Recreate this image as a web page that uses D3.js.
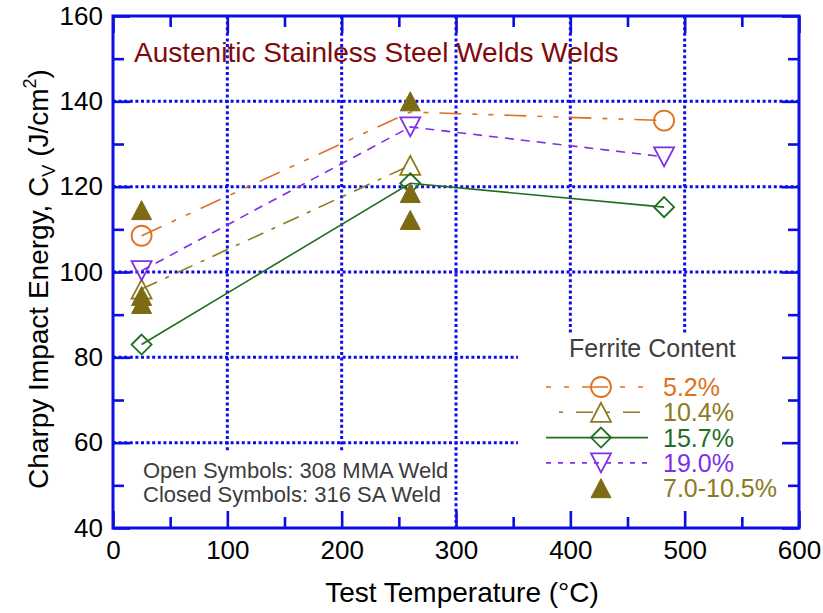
<!DOCTYPE html>
<html>
<head>
<meta charset="utf-8">
<script src="https://cdn.jsdelivr.net/npm/d3@7"></script>
<style>
  body { margin: 0; background: #fff; }
  svg { display: block; }
  text { font-family: "Liberation Sans", Arial, Helvetica, sans-serif; }
</style>
</head>
<body>
<svg id="chart" width="823" height="613"></svg>
<script>
// Charpy impact energy (J/cm^2) versus test temperature (°C)
const temps = [25, 260, 482];
const ferrite52 = [108.5, 137.5, 135.5];
const ferrite52MarkerTemps = [25, 482];   // the 260 °C point is hidden under a closed symbol
const ferrite104 = [96, 125];
const ferrite157 = [83, 120.8, 115.2];
const ferrite190 = [100.3, 134, 127];
const closedTemps = [25, 25, 25, 260, 260, 260];
const closedValues = [114.5, 94.4, 92.5, 140, 118.5, 112.2];
const seriesLabels = ["5.2%", "10.4%", "15.7%", "19.0%", "7.0-10.5%"];
const xTicks = [0, 100, 200, 300, 400, 500, 600];
const xMinor = [50, 150, 250, 350, 450, 550];
const yTicks = [40, 60, 80, 100, 120, 140, 160];
const yMinor = [50, 70, 90, 110, 130, 150];
const xGrid = [100, 200, 300, 400, 500];
const yGrid = [60, 80, 100, 120, 140];

const svg = d3.select("#chart");
const x = d3.scaleLinear().domain([0, 600]).range([113, 799]);
const y = d3.scaleLinear().domain([40, 160]).range([528, 16]);
const blue = "#0d0de6";

// marker shapes (centred on the data point)
const shapes = {
  circle: "M10,0A10,10 0 1,1 -10,0A10,10 0 1,1 10,0Z",
  up: "M0,-9.5L10,9.5L-10,9.5Z",
  down: "M-10,-9.5L10,-9.5L0,9.5Z",
  diamond: "M0,-10L10,0L0,10L-10,0Z"
};

const series = [
  { label: seriesLabels[0], xs: temps, ys: ferrite52, marks: ferrite52MarkerTemps,
    color: "#e07020", dash: "22,11,5,11,5,11", legendDash: "26,12,5,13,5,13", legendOffset: 38, shape: "circle" },
  { label: seriesLabels[1], xs: temps.slice(0, ferrite104.length), ys: ferrite104, marks: null,
    color: "#8c7a1e", dash: "17,9,4,9", legendDash: "17,13,4,13", legendOffset: 17, shape: "up" },
  { label: seriesLabels[2], xs: temps, ys: ferrite157, marks: null,
    color: "#1f6e1f", dash: null, legendDash: null, legendOffset: 0, shape: "diamond" },
  { label: seriesLabels[3], xs: temps, ys: ferrite190, marks: null,
    color: "#7f2fe6", dash: "9,7", legendDash: "5,7", legendOffset: 0, shape: "down" }
];
const closedColor = "#7d6a14";

// dotted grid
const grid = svg.append("g").attr("stroke", blue).attr("stroke-width", 3).attr("stroke-dasharray", "3,2.6");
grid.selectAll("line.h").data(yGrid).join("line").attr("class", "h")
  .attr("x1", x(0)).attr("x2", x(600)).attr("y1", d => y(d)).attr("y2", d => y(d));
grid.selectAll("line.v").data(xGrid).join("line").attr("class", "v")
  .attr("x1", d => x(d)).attr("x2", d => x(d)).attr("y1", y(160)).attr("y2", y(40));

// panels behind the notes and the legend
svg.append("rect").attr("x", x(0)).attr("y", 452).attr("width", 341).attr("height", y(40) - 452).attr("fill", "#fff");
svg.append("rect").attr("x", 518).attr("y", 334).attr("width", x(600) - 518).attr("height", y(40) - 334).attr("fill", "#fff");

// series lines
const line = d3.line().x(d => x(d[0])).y(d => y(d[1]));
series.forEach(s => {
  const pts = s.xs.map((t, i) => [t, s.ys[i]]);
  svg.append("path").datum(pts).attr("d", line)
    .attr("fill", "none").attr("stroke", s.color).attr("stroke-width", 1.6)
    .attr("stroke-dasharray", s.dash);
});

// open markers
series.forEach(s => {
  const pts = s.xs.map((t, i) => [t, s.ys[i]]).filter(d => !s.marks || s.marks.includes(d[0]));
  svg.append("g").selectAll("path").data(pts).join("path")
    .attr("d", shapes[s.shape])
    .attr("transform", d => `translate(${x(d[0])},${y(d[1])})`)
    .attr("fill", "none").attr("stroke", s.color).attr("stroke-width", 1.8);
});

// closed markers
svg.append("g").selectAll("path").data(closedTemps.map((t, i) => [t, closedValues[i]])).join("path")
  .attr("d", shapes.up)
  .attr("transform", d => `translate(${x(d[0])},${y(d[1])})`)
  .attr("fill", closedColor).attr("stroke", closedColor).attr("stroke-width", 1);

// axes
function styleAxis(g) {
  g.select(".domain").remove();
  g.selectAll(".tick line").attr("stroke", blue).attr("stroke-width", 2.6);
  g.selectAll(".tick text").attr("fill", "#000").style("font-size", "26px")
    .style("font-family", '"Liberation Sans", Arial, sans-serif');
}
svg.append("g").attr("transform", `translate(0,${y(40)})`)
  .call(d3.axisBottom(x).tickValues(xTicks).tickSizeInner(-17).tickSizeOuter(0).tickPadding(13).tickFormat(d3.format("d")))
  .call(styleAxis);
svg.append("g").attr("transform", `translate(0,${y(40)})`)
  .call(d3.axisBottom(x).tickValues(xMinor).tickSizeInner(-11).tickSizeOuter(0).tickFormat(""))
  .call(styleAxis);
svg.append("g").attr("transform", `translate(0,${y(160)})`)
  .call(d3.axisTop(x).tickValues(xTicks).tickSizeInner(-17).tickSizeOuter(0).tickFormat(""))
  .call(styleAxis);
svg.append("g").attr("transform", `translate(0,${y(160)})`)
  .call(d3.axisTop(x).tickValues(xMinor).tickSizeInner(-11).tickSizeOuter(0).tickFormat(""))
  .call(styleAxis);
svg.append("g").attr("transform", `translate(${x(0)},0)`)
  .call(d3.axisLeft(y).tickValues(yTicks).tickSizeInner(-17).tickSizeOuter(0).tickPadding(10).tickFormat(d3.format("d")))
  .call(styleAxis);
svg.append("g").attr("transform", `translate(${x(0)},0)`)
  .call(d3.axisLeft(y).tickValues(yMinor).tickSizeInner(-11).tickSizeOuter(0).tickFormat(""))
  .call(styleAxis);
svg.append("g").attr("transform", `translate(${x(600)},0)`)
  .call(d3.axisRight(y).tickValues(yTicks).tickSizeInner(-17).tickSizeOuter(0).tickFormat(""))
  .call(styleAxis);
svg.append("g").attr("transform", `translate(${x(600)},0)`)
  .call(d3.axisRight(y).tickValues(yMinor).tickSizeInner(-11).tickSizeOuter(0).tickFormat(""))
  .call(styleAxis);

// plot frame
svg.append("rect").attr("x", x(0)).attr("y", y(160)).attr("width", x(600) - x(0)).attr("height", y(40) - y(160))
  .attr("fill", "none").attr("stroke", blue).attr("stroke-width", 3);

// axis titles
svg.append("text").attr("x", 462).attr("y", 602).attr("text-anchor", "middle")
  .style("font-size", "28px").attr("fill", "#000").text("Test Temperature (°C)");

const yt = svg.append("text").attr("transform", "translate(48,279) rotate(-90)")
  .attr("text-anchor", "middle").style("font-size", "28px").attr("fill", "#000");
yt.append("tspan").text("Charpy Impact Energy, C");
yt.append("tspan").attr("dy", 7).style("font-size", "18px").text("V");
yt.append("tspan").attr("dy", -7).text(" (J/cm");
yt.append("tspan").attr("dy", -12).style("font-size", "18px").text("2");
yt.append("tspan").attr("dy", 12).text(")");

// chart title
svg.append("text").attr("x", 134).attr("y", 62).style("font-size", "28px").attr("fill", "#7f0a0a")
  .text("Austenitic Stainless Steel Welds Welds");

// notes
svg.append("text").attr("x", 143).attr("y", 478).style("font-size", "22px").attr("fill", "#3c3c3c")
  .text("Open Symbols: 308 MMA Weld");
svg.append("text").attr("x", 143).attr("y", 502).style("font-size", "22px").attr("fill", "#3c3c3c")
  .text("Closed Symbols: 316 SA Weld");

// legend
const lg = svg.append("g");
lg.append("text").attr("x", 569).attr("y", 357).style("font-size", "25px").attr("fill", "#404040").text("Ferrite Content");
const rowY = i => 387 + i * 25.3;
const symX = 601;
series.forEach((s, i) => {
  lg.append("line").attr("x1", 546).attr("x2", 648).attr("y1", rowY(i)).attr("y2", rowY(i))
    .attr("stroke", s.color).attr("stroke-width", 1.6)
    .attr("stroke-dasharray", s.legendDash).attr("stroke-dashoffset", s.legendOffset);
  lg.append("path").attr("d", shapes[s.shape]).attr("transform", `translate(${symX},${rowY(i)})`)
    .attr("fill", "none").attr("stroke", s.color).attr("stroke-width", 1.8);
  lg.append("text").attr("x", 663).attr("y", rowY(i) + 9).style("font-size", "25px").attr("fill", s.color).text(s.label);
});
lg.append("path").attr("d", shapes.up).attr("transform", `translate(${symX},${rowY(4)})`)
  .attr("fill", closedColor).attr("stroke", closedColor).attr("stroke-width", 1);
lg.append("text").attr("x", 663).attr("y", rowY(4) + 9).style("font-size", "25px").attr("fill", "#8c7a1e").text(seriesLabels[4]);
</script>
</body>
</html>
